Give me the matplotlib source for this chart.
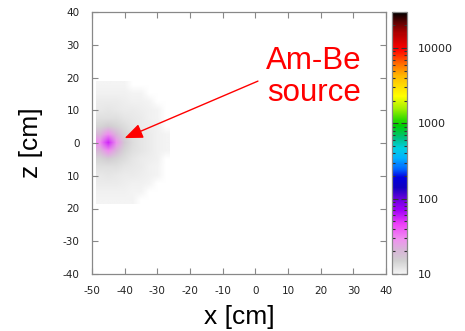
import numpy as np
import matplotlib
matplotlib.use('Agg')
import matplotlib.pyplot as plt
from matplotlib.colors import LinearSegmentedColormap, LogNorm

# cell centres of the count map (cm)
x_centers = [-47.5, -45, -42.5, -40, -37.5, -35, -32.5, -30, -27.5]
z_centers = [17.5, 15, 12.5, 10, 7.5, 5, 2.5, 0, -2.5, -5, -7.5, -10, -12.5, -15, -17.5]

# counts, rows from top (z=17.5) to bottom (z=-17.5)
counts = [
    [10.2, 10.2, 10.2, 10.1, 0, 0, 0, 0, 0],
    [10.5, 10.6, 10.5, 10.4, 10.3, 10.1, 0, 0, 0],
    [11, 11, 11, 10.8, 10.6, 10.4, 10.1, 0, 0],
    [11.6, 11.7, 11.6, 11.3, 11, 10.7, 10.4, 10.1, 0],
    [12.5, 12.8, 12.5, 12, 11.5, 11, 10.6, 10.3, 0],
    [14.5, 15.5, 14.5, 13, 12, 11.3, 10.8, 10.4, 0],
    [20, 29, 20, 14.5, 12.8, 11.7, 11, 10.5, 10.2],
    [29, 55, 28, 16, 13, 11.8, 11, 10.5, 10.2],
    [20, 29, 20, 14.5, 12.8, 11.7, 11, 10.5, 10.2],
    [14.5, 15.5, 14.5, 13, 12, 11.3, 10.8, 10.4, 0],
    [12.5, 12.8, 12.5, 12, 11.5, 11, 10.6, 10.3, 0],
    [11.6, 11.7, 11.6, 11.3, 11, 10.7, 10.4, 10.1, 0],
    [11, 11, 11, 10.8, 10.6, 10.4, 10.2, 0, 0],
    [10.5, 10.6, 10.5, 10.4, 10.3, 10.2, 0, 0, 0],
    [10.3, 10.3, 10.3, 10.2, 10.1, 0, 0, 0, 0],
]

x_ticks = [-50, -40, -30, -20, -10, 0, 10, 20, 30, 40]
z_ticks = [40, 30, 20, 10, 0, -10, -20, -30, -40]
z_tick_labels = ['40', '30', '20', '10', '0', '10', '20', '-30', '-40']
cb_ticks = [10, 100, 1000, 10000]

source_xy = (-40, 1.5)
label_tail = (0.8, 18.9)

cmap = LinearSegmentedColormap.from_list('gp', [
    (0.00, '#f4f4f4'), (0.05, '#d0d0d0'), (0.09, '#d8b4d8'), (0.13, '#f090f0'),
    (0.19, '#ee40f8'), (0.245, '#a000f8'), (0.29, '#6000d8'), (0.33, '#1000c0'),
    (0.37, '#0000e0'), (0.40, '#0060ff'), (0.44, '#00b0ff'), (0.48, '#00d0e0'),
    (0.52, '#00c080'), (0.57, '#00d000'), (0.63, '#a0f000'), (0.68, '#ffff00'),
    (0.75, '#ffc000'), (0.80, '#ff7000'), (0.86, '#ff0000'), (0.92, '#b00000'),
    (0.96, '#600000'), (1.00, '#000000')])
cmap.set_bad('white')
cmap.set_under('white')

fig = plt.figure(figsize=(4.65, 3.31), dpi=100)
ax = fig.add_axes([92 / 465, 1 - 274 / 331, 294 / 465, 262 / 331])
cax = fig.add_axes([392 / 465, 1 - 274 / 331, 15 / 465, 262 / 331])

dx = 1.25
data = np.ma.masked_less_equal(np.array(counts, dtype=float), 0)
im = ax.imshow(data, cmap=cmap, norm=LogNorm(vmin=10, vmax=30000),
               extent=[x_centers[0] - dx, x_centers[-1] + dx, z_centers[-1] - dx, z_centers[0] + dx],
               origin='upper', interpolation='bilinear', interpolation_stage='rgba', aspect='auto')

ax.set_xlim(-50, 40)
ax.set_ylim(-40, 40)
ax.set_xticks(x_ticks)
ax.set_xticklabels([str(t) for t in x_ticks])
ax.set_yticks(z_ticks)
ax.set_yticklabels(z_tick_labels)
ax.tick_params(direction='in', top=True, right=True, length=4, width=0.8, color='#888888',
               labelsize=7.5, labelcolor='#222222', pad=9)
for s in ax.spines.values():
    s.set_color('#888888')
    s.set_linewidth(0.9)

ax.set_xlabel('x [cm]', fontsize=19, family='Liberation Sans', labelpad=6)
ax.set_ylabel('z [cm]', fontsize=19, family='Liberation Sans', labelpad=14)

ax.text(17.95, 20.2, 'Am-Be\nsource', color='red', fontsize=22.5, family='Liberation Sans',
        ha='center', va='center', linespacing=1.1)
ax.annotate('', xy=source_xy, xytext=label_tail,
            arrowprops=dict(arrowstyle='-|>,head_length=1.1,head_width=0.45', color='red',
                            lw=1, shrinkA=0, shrinkB=0, mutation_scale=10))

cb = fig.colorbar(im, cax=cax)
cb.set_ticks(cb_ticks)
cb.set_ticklabels([str(t) for t in cb_ticks])
cb.outline.set_edgecolor('#888888')
cb.outline.set_linewidth(0.9)
cax.tick_params(which='both', direction='in', left=True, right=True, color='#333333', width=0.8)
cax.tick_params(which='major', length=4, labelsize=8, labelcolor='#222222', pad=8)
cax.tick_params(which='minor', length=2.5)

fig.savefig('out.png', dpi=100)
